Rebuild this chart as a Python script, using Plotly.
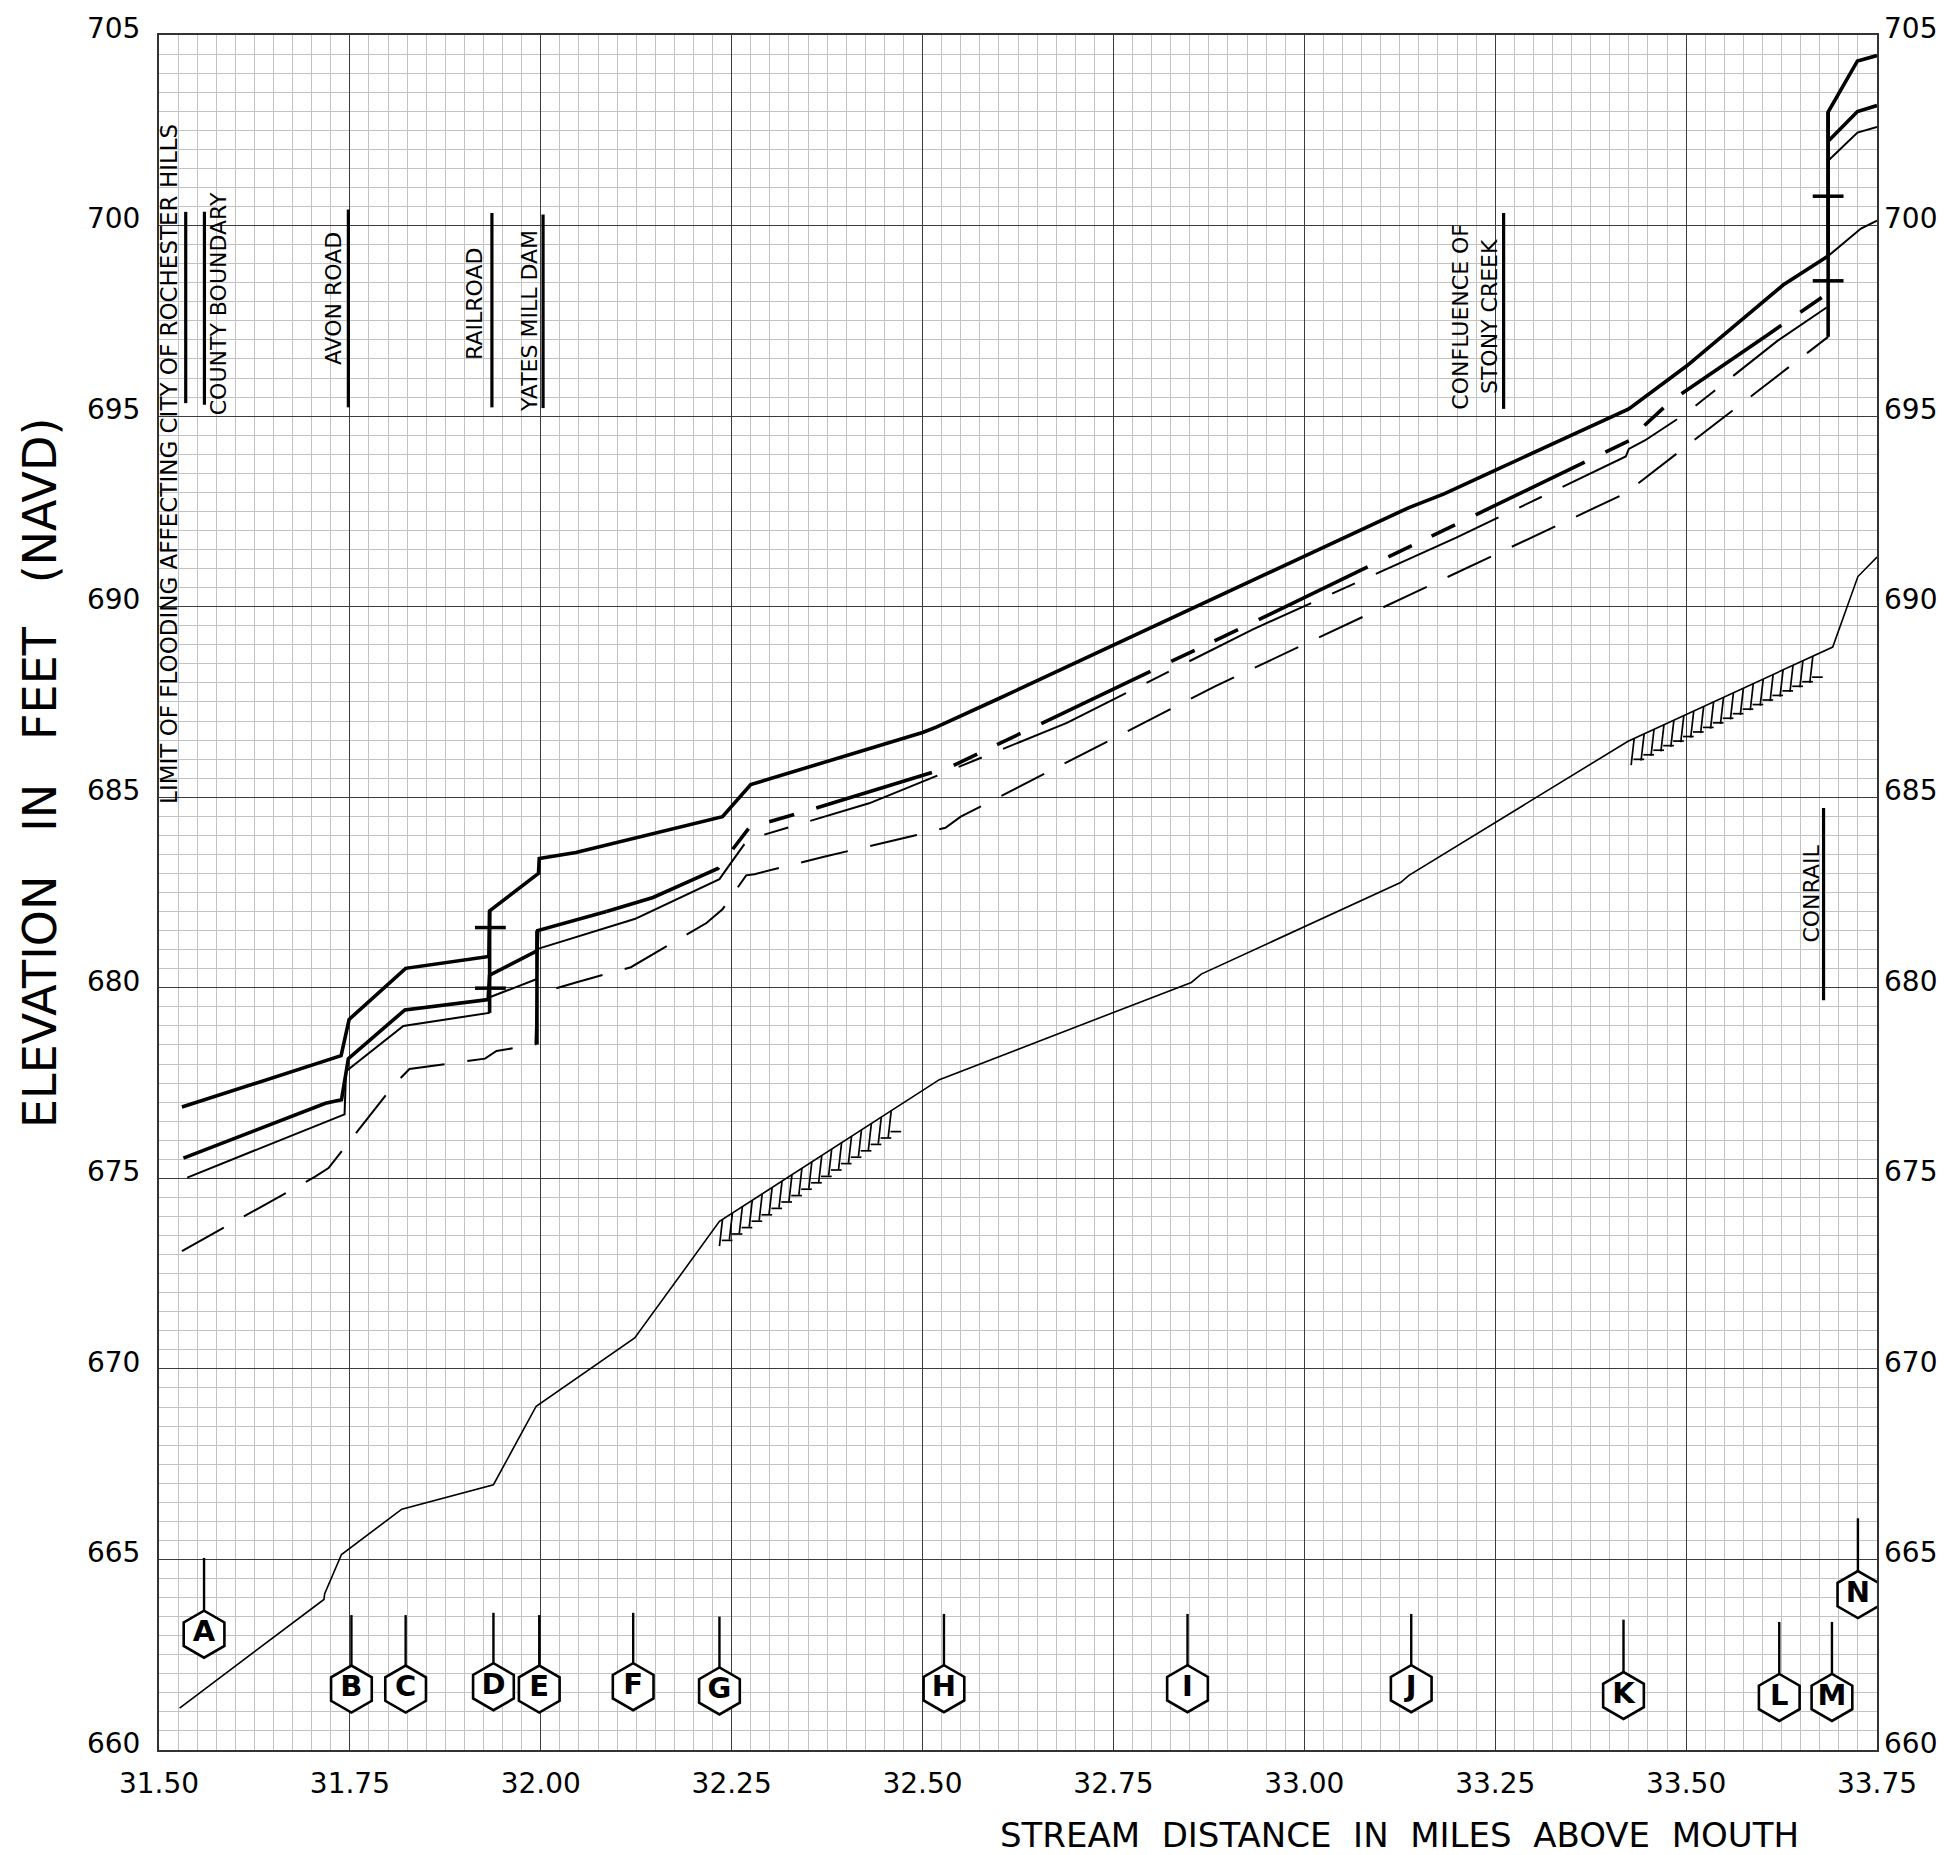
import numpy as np
import plotly.graph_objects as go

# ---------------- data (stream distance in miles, elevation in feet NAVD) ----------------
# Top profile (thick solid)
p1_x = [31.530, 31.7385, 31.749, 31.823, 31.932, 31.933, 31.997, 31.998, 32.046, 32.238, 32.275,
        32.500, 32.518, 32.600, 33.137, 33.183, 33.249, 33.425, 33.501, 33.627, 33.686, 33.686,
        33.7244, 33.75]
p1_y = [676.87, 678.22, 679.17, 680.51, 680.82, 682.02, 683.00, 683.39, 683.55, 684.49, 685.33,
        686.70, 686.84, 687.59, 692.60, 692.96, 693.57, 695.19, 696.32, 698.44, 699.20, 702.98,
        704.32, 704.46]

# Second profile (thick: solid downstream, dashed upstream, solid above Conrail)
p2a_x = [31.532, 31.718, 31.739, 31.748, 31.822, 31.931, 31.933, 31.995, 31.996, 32.086]
p2a_y = [675.53, 676.97, 677.06, 678.14, 679.42, 679.69, 680.33, 680.97, 681.50, 682.00]
p2b_x = [32.086, 32.147, 32.203, 32.232, 32.273, 32.358, 32.537, 32.650, 32.932, 33.214,
         33.427, 33.443, 33.481, 33.608, 33.684]
p2b_y = [682.00, 682.37, 682.87, 683.13, 684.20, 684.70, 685.80, 686.88, 689.58, 692.31,
         694.37, 694.71, 695.41, 697.15, 698.20]
p2c_x = [33.686, 33.7244, 33.75]
p2c_y = [702.21, 702.99, 703.15]

# Third profile (thin: solid downstream, long-short dash upstream)
p3a_x = [31.537, 31.743, 31.745, 31.820, 31.932, 31.933, 31.995, 31.996, 32.125]
p3a_y = [675.02, 676.68, 677.81, 679.00, 679.34, 679.75, 680.23, 681.02, 681.82]
p3b_x = [32.125, 32.188, 32.216, 32.234, 32.240, 32.271, 32.430, 32.689, 32.932, 33.199,
         33.421, 33.425, 33.446, 33.499, 33.521, 33.620, 33.684]
p3b_y = [681.82, 682.41, 682.67, 682.85, 683.02, 683.89, 684.84, 686.95, 689.40, 691.81,
         693.94, 694.14, 694.36, 695.06, 695.41, 696.98, 697.85]
p3c_x = [33.686, 33.7244, 33.75]
p3c_y = [701.70, 702.44, 702.59]

# Fourth profile (thin long dash)
p4_x = [31.530, 31.705, 31.722, 31.808, 31.828, 31.927, 31.942, 31.993, 31.995, 32.046, 32.118,
        32.136, 32.160, 32.217, 32.238, 32.269, 32.280, 32.371, 32.491, 32.530, 32.550, 32.715,
        32.883, 33.138, 33.420, 33.686]
p4_y = [673.09, 675.05, 675.27, 677.46, 677.87, 678.14, 678.34, 678.51, 679.84, 680.14, 680.54,
        680.75, 681.03, 681.70, 682.06, 682.95, 682.98, 683.44, 684.00, 684.20, 684.49, 686.18,
        687.91, 690.31, 692.97, 697.08]
p4c_x = [33.686, 33.729, 33.75]
p4c_y = [699.20, 699.92, 700.13]

# Streambed
bed_x = [31.527, 31.716, 31.717, 31.739, 31.818, 31.938, 31.994, 32.123, 32.234, 32.522,
         32.852, 32.865, 33.126, 33.137, 33.424, 33.692, 33.725, 33.75]
bed_y = [661.10, 663.95, 664.10, 665.13, 666.32, 666.96, 669.02, 670.81, 673.87, 677.59,
         680.14, 680.36, 682.76, 682.95, 686.47, 688.94, 690.79, 691.30]
hatch_ranges = [(32.238, 32.466), (33.432, 33.672)]

# Structure faces (vertical walls) and their top/low-chord ticks
wall_x = [[31.933, 31.933], [31.995, 31.995], [33.686, 33.686]]
wall_y = [[679.34, 682.02], [678.51, 681.50], [697.08, 702.98]]
tick_x = [31.934, 31.934, 33.686, 33.686]
tick_y = [681.58, 679.99, 700.77, 698.55]

# Feature labels
feat_text = ["LIMIT OF FLOODING AFFECTING CITY OF ROCHESTER HILLS", "COUNTY BOUNDARY",
             "AVON ROAD", "RAILROAD", "YATES MILL DAM", "CONFLUENCE OF<br>STONY CREEK", "CONRAIL"]
feat_size = [23, 22, 22, 22, 22, 22, 22]
feat_tx = [31.5133, 31.578, 31.7288, 31.9124, 31.986, 33.224, 33.664]
feat_ty = [693.75, 697.95, 698.09, 697.94, 697.50, 697.62, 682.48]
feat_lx = [31.535, 31.5595, 31.748, 31.936, 32.003, 33.261, 33.680]
feat_ly0 = [695.34, 695.30, 695.23, 695.23, 695.21, 695.19, 679.67]
feat_ly1 = [700.36, 700.36, 700.42, 700.33, 700.29, 700.33, 684.72]

# Cross sections
sec_labels = list("ABCDEFGHIJKLMN")
sec_x = [31.559, 31.752, 31.823, 31.938, 31.998, 32.121, 32.234, 32.528, 32.847, 33.140,
         33.418, 33.622, 33.691, 33.725]
sec_y = [663.04, 661.60, 661.60, 661.66, 661.60, 661.66, 661.55, 661.61, 661.61, 661.61,
         661.43, 661.38, 661.38, 664.08]
sec_stem_top = [665.04, 663.54, 663.54, 663.60, 663.54, 663.60, 663.50, 663.57, 663.57, 663.57,
                663.42, 663.36, 663.36, 666.08]

x_ticks = [31.50, 31.75, 32.00, 32.25, 32.50, 32.75, 33.00, 33.25, 33.50, 33.75]
y_ticks = [660, 665, 670, 675, 680, 685, 690, 695, 700, 705]

FONT = "DejaVu Sans"
THICK = 3.6
THIN = 2.0
NB = "\u00a0"

fig = go.Figure()


def add_line(x, y, width, dash="solid", yaxis="y"):
    fig.add_trace(go.Scatter(x=x, y=y, mode="lines", yaxis=yaxis,
                             line=dict(color="black", width=width, dash=dash),
                             hoverinfo="skip", showlegend=False))


# streambed + hatching (hatch marks hang below the bed line)
add_line(bed_x, bed_y, 1.6)
hx, hy = [], []
for a, b in hatch_ranges:
    for xv in np.arange(a, b, 0.013):
        yb = float(np.interp(xv, bed_x, bed_y))
        hx += [xv, xv - 0.004, None, xv - 0.001, xv + 0.013, None]
        hy += [yb, yb - 0.70, None, yb - 0.55, yb - 0.55, None]
add_line(hx, hy, 1.7)

# profiles
add_line(p4_x, p4_y, THIN, dash="48px,23px")
add_line(p4c_x, p4c_y, THIN)
add_line(p3a_x, p3a_y, THIN)
add_line(p3b_x, p3b_y, THIN, dash="135px,23px,25px,23px")
add_line(p3c_x, p3c_y, THIN)
add_line(p2a_x, p2a_y, THICK)
add_line(p2b_x, p2b_y, THICK, dash="121px,23px,26px,22px,26px,23px")
add_line(p2c_x, p2c_y, THICK)
add_line(p1_x, p1_y, THICK)

# walls
for wx, wy in zip(wall_x, wall_y):
    add_line(wx, wy, THICK)

# ticks on structures
fig.add_trace(go.Scatter(x=tick_x, y=tick_y, mode="markers", hoverinfo="skip", showlegend=False,
                         marker=dict(symbol="line-ew", size=22, line=dict(color="black", width=3.5))))

# feature lines
fx, fy = [], []
for lx, a, b in zip(feat_lx, feat_ly0, feat_ly1):
    fx += [lx, lx, None]
    fy += [a, b, None]
add_line(fx, fy, 3.2)

# section stems + hexagons
sx, sy = [], []
for x0, yc, yt in zip(sec_x, sec_y, sec_stem_top):
    sx += [x0, x0, None]
    sy += [yc + 0.6, yt, None]
add_line(sx, sy, 2.4)
fig.add_trace(go.Scatter(x=sec_x, y=sec_y, mode="markers+text", text=sec_labels,
                         textposition="middle center", hoverinfo="skip", showlegend=False,
                         marker=dict(symbol="hexagon", size=47, color="white",
                                     line=dict(color="black", width=2.6)),
                         textfont=dict(family=FONT, size=29, color="black", weight="bold")))

# dummy trace for right axis
fig.add_trace(go.Scatter(x=[None], y=[None], yaxis="y2", mode="lines", showlegend=False,
                         hoverinfo="skip"))

annotations = []
for t, x0, y0, fs in zip(feat_text, feat_tx, feat_ty, feat_size):
    annotations.append(dict(x=x0, y=y0, xref="x", yref="y", text=t, textangle=-90,
                            showarrow=False, xanchor="center", yanchor="middle",
                            font=dict(family=FONT, size=fs, color="black")))
gap3 = NB * 3
annotations.append(dict(x=(40 - 159) / 1721, y=(1750 - 770) / 1720, xref="paper", yref="paper",
                        text=gap3.join(["ELEVATION", "IN", "FEET", "(NAVD)"]), textangle=-90,
                        showarrow=False, xanchor="center", yanchor="middle",
                        font=dict(family=FONT, size=46, color="black")))
gap2 = NB * 2
annotations.append(dict(x=(1401.5 - 159) / 1721, y=(1750 - 1835) / 1720, xref="paper", yref="paper",
                        text=gap2.join(["STREAM", "DISTANCE", "IN", "MILES", "ABOVE", "MOUTH"]),
                        showarrow=False, xanchor="center", yanchor="middle",
                        font=dict(family=FONT, size=34, color="black")))

tickfont = dict(family=FONT, size=28, color="black")
fig.update_layout(
    width=1949, height=1855,
    margin=dict(l=159, r=69, t=30, b=105),
    paper_bgcolor="white", plot_bgcolor="white",
    showlegend=False,
    annotations=annotations,
    xaxis=dict(range=[31.5, 33.75], tickvals=x_ticks, ticktext=[f"{v:.2f}" for v in x_ticks],
               showgrid=True, gridcolor="#3c3c3c", gridwidth=1,
               minor=dict(tick0=31.5, dtick=0.025, showgrid=True, gridcolor="#c2c2c2", gridwidth=1),
               showline=True, linecolor="#333333", linewidth=2, mirror=True,
               ticks="", tickfont=tickfont, ticklabelstandoff=7, zeroline=False),
    yaxis=dict(range=[660, 705], tickvals=y_ticks, ticktext=[str(v) for v in y_ticks],
               showgrid=True, gridcolor="#3c3c3c", gridwidth=1,
               minor=dict(tick0=660, dtick=0.5, showgrid=True, gridcolor="#c2c2c2", gridwidth=1),
               showline=True, linecolor="#333333", linewidth=2, mirror=True,
               ticks="", tickfont=tickfont, ticklabelstandoff=11, ticklabelshift=-7, zeroline=False),
    yaxis2=dict(range=[660, 705], tickvals=y_ticks, ticktext=[str(v) for v in y_ticks],
                overlaying="y", side="right", showgrid=False, ticks="", tickfont=tickfont,
                ticklabelstandoff=6, ticklabelshift=-7, zeroline=False, showline=False),
)

fig.write_html("out.html")
